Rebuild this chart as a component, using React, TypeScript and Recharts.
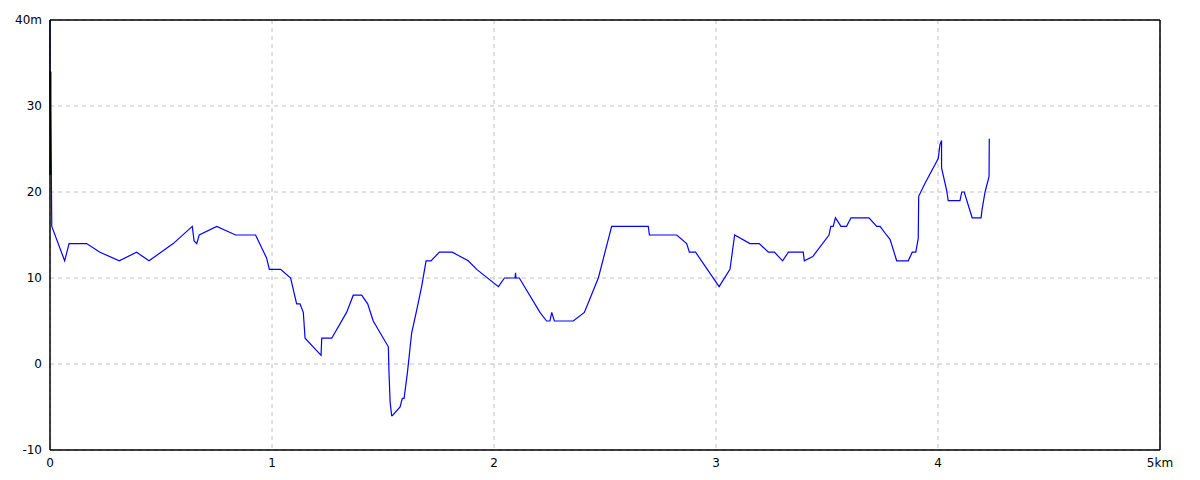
import { LineChart, Line, XAxis, YAxis, CartesianGrid, ReferenceLine } from 'recharts';

// elevation profile, distance in km / height in m
const distKm = [
  0, 0, 0.006, 0.008, 0.066, 0.086, 0.165, 0.225, 0.312, 0.39, 0.446, 0.555, 0.641, 0.649, 0.661, 0.672,
  0.751, 0.836, 0.926, 0.976, 0.988, 1.039, 1.084, 1.111, 1.126, 1.141, 1.149, 1.221, 1.224, 1.269,
  1.336, 1.366, 1.404, 1.431, 1.456, 1.524, 1.527, 1.532, 1.539, 1.542, 1.577, 1.587, 1.595, 1.61,
  1.629, 1.652, 1.674, 1.694, 1.716, 1.754, 1.812, 1.884, 1.922, 2.02, 2.047, 2.095, 2.097, 2.099,
  2.114, 2.207, 2.237, 2.252, 2.26, 2.272, 2.357, 2.407, 2.47, 2.53, 2.695, 2.7, 2.823, 2.868, 2.88,
  2.908, 3.014, 3.063, 3.084, 3.153, 3.195, 3.236, 3.263, 3.3, 3.326, 3.393, 3.398, 3.436, 3.509,
  3.517, 3.528, 3.538, 3.563, 3.588, 3.608, 3.689, 3.724, 3.739, 3.768, 3.784, 3.814, 3.866, 3.884,
  3.9, 3.911, 3.913, 3.941, 4.001, 4.009, 4.016, 4.016, 4.039, 4.046, 4.099, 4.107, 4.118, 4.154,
  4.194, 4.198, 4.212, 4.23, 4.231,
];
const elevM = [
  40, 34, 22, 16, 12, 14, 14, 13, 12, 13, 12, 14, 16, 14.3, 14, 15,
  16, 15, 15, 12.3, 11, 11, 10, 7, 7, 6, 3, 1, 3, 3,
  6, 8, 8, 7, 5, 2, -1, -4.4, -6, -6, -5, -4, -4, -1,
  3.6, 6.3, 9, 12, 12, 13, 13, 12, 11, 9, 10, 10, 10.6, 10,
  10, 6, 5, 5, 6, 5, 5, 6, 10, 16, 16, 15, 15, 14, 13,
  13, 9, 11, 15, 14, 14, 13, 13, 12, 13, 13, 12, 12.5, 15,
  16, 16, 17, 16, 16, 17, 17, 16, 16, 15, 14.5, 12, 12, 13,
  13, 14.6, 19.5, 21, 23.9, 25.5, 26, 22.8, 20.2, 19, 19, 20, 20, 17,
  17, 17.9, 20, 21.8, 26.2,
];

// short black piece at the start
const startDist = [0.002, 0.002];
const startElev = [34, 22];

const yTicks = [-10, 0, 10, 20, 30, 40];
const xTicks = [0, 1, 2, 3, 4, 5];

const data = distKm.map((d, i) => ({ d, e: elevM[i] }));
const startData = startDist.map((d, i) => ({ d, e: startElev[i] }));

const tickStyle = { fontSize: 12, fill: '#000', fontFamily: 'DejaVu Sans' };

export default function App() {
  return (
    <div style={{ position: 'absolute', left: 0, top: 0, background: '#fff' }}>
      <LineChart width={1200} height={480} data={data} margin={{ top: 20, right: 40, bottom: 0, left: 0 }}>
        <CartesianGrid strokeDasharray="4 4" stroke="#c0c0c0" />
        <XAxis
          dataKey="d"
          type="number"
          domain={[0, 5]}
          ticks={xTicks}
          tickLine={false}
          height={30}
          axisLine={{ stroke: '#000', strokeWidth: 1.5 }}
          tick={tickStyle}
          tickFormatter={(v) => (v === 5 ? '5km' : String(v))}
        />
        <YAxis
          type="number"
          domain={[-10, 40]}
          ticks={yTicks}
          tickLine={false}
          width={50}
          axisLine={{ stroke: '#000', strokeWidth: 1.5 }}
          tick={tickStyle}
          tickFormatter={(v) => (v === 40 ? '40m' : String(v))}
        />
        <ReferenceLine y={40} stroke="#000" strokeWidth={1.5} />
        <ReferenceLine x={5} stroke="#000" strokeWidth={1.5} />
        <Line dataKey="e" type="linear" stroke="#0000ff" strokeWidth={1.2} dot={false} isAnimationActive={false} />
        <Line data={startData} dataKey="e" type="linear" stroke="#000" strokeWidth={2} dot={false} isAnimationActive={false} />
      </LineChart>
    </div>
  );
}
